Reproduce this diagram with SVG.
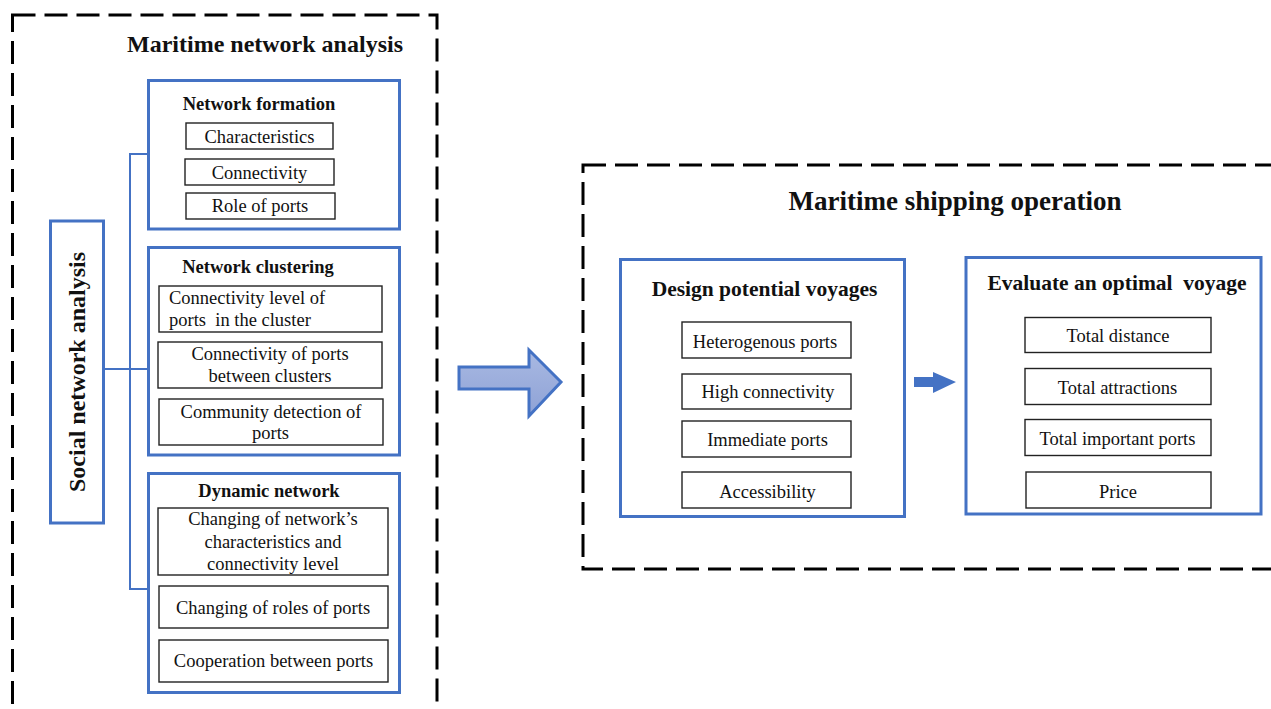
<svg xmlns="http://www.w3.org/2000/svg" width="1271" height="709" viewBox="0 0 1271 709">
<style>
.dash{fill:none;stroke:#000;stroke-width:3;stroke-dasharray:23 9}
.blue{fill:#fff;stroke:#4472C4;stroke-width:3}
.sub{fill:#fff;stroke:#222;stroke-width:1.4}
.conn{fill:none;stroke:#4472C4;stroke-width:2}
text{font-family:"Liberation Serif","Times New Roman",serif;fill:#111;white-space:pre}
.t{font-size:18.5px;text-anchor:middle}
.tl{font-size:18.5px}
.h{font-size:18.5px;font-weight:bold;text-anchor:middle}
.h2{font-size:21.5px;font-weight:bold;text-anchor:middle}
.big{font-size:24px;font-weight:bold;text-anchor:middle}
</style>
<defs>
<linearGradient id="ag" x1="0" y1="0" x2="0" y2="1">
<stop offset="0" stop-color="#a9b9e2"/>
<stop offset="1" stop-color="#8ea2d6"/>
</linearGradient>
</defs>
<rect width="1271" height="709" fill="#fff"/>

<g id="maritime-network-analysis">
<rect class="dash" x="12.5" y="15" width="424.5" height="720"/>
<text class="big" x="265" y="52">Maritime network analysis</text>
</g>

<g id="connectors">
<polyline class="conn" points="148,154 130,154 130,589 148,589"/>
<line class="conn" x1="104" y1="369" x2="148" y2="369"/>
<path d="M459,367 L529,367 L529,350 L561,382 L529,416 L529,389 L459,389 Z" fill="url(#ag)" stroke="#4472C4" stroke-width="3" stroke-linejoin="miter"/>
<path d="M914,377 L933,377 L933,372 L956,382 L933,393 L933,387 L914,387 Z" fill="#4472C4"/>
</g>

<g id="social-network-analysis">
<rect class="blue" x="50.5" y="221" width="53" height="302"/>
<text class="big" transform="translate(85,372) rotate(-90)" x="0" y="0">Social network analysis</text>
</g>

<g id="network-formation">
<rect class="blue" x="148.5" y="80.5" width="251" height="148.5"/>
<text class="h" x="259" y="110">Network formation</text>
<rect class="sub" x="186" y="123" width="147" height="26"/>
<text class="t" x="259.5" y="143">Characteristics</text>
<rect class="sub" x="185" y="159" width="149" height="26"/>
<text class="t" x="259.5" y="179">Connectivity</text>
<rect class="sub" x="186" y="193" width="149" height="26"/>
<text class="t" x="260" y="212">Role of ports</text>
</g>

<g id="network-clustering">
<rect class="blue" x="148.5" y="247.5" width="251" height="207.5"/>
<text class="h" x="258" y="273">Network clustering</text>
<rect class="sub" x="159" y="286" width="223" height="46"/>
<text class="tl" x="169" y="304">Connectivity level of</text>
<text class="tl" x="169" y="326">ports  in the cluster</text>
<rect class="sub" x="158" y="342" width="224" height="46"/>
<text class="t" x="270" y="360">Connectivity of ports</text>
<text class="t" x="270" y="382">between clusters</text>
<rect class="sub" x="159" y="399" width="224" height="46"/>
<text class="t" x="271" y="418">Community detection of</text>
<text class="t" x="270.5" y="439">ports</text>
</g>

<g id="dynamic-network">
<rect class="blue" x="148.5" y="473.5" width="251" height="219"/>
<text class="h" x="269" y="497">Dynamic network</text>
<rect class="sub" x="158" y="508" width="230" height="67"/>
<text class="t" x="273" y="525">Changing of network’s</text>
<text class="t" x="273" y="547.5">characteristics and</text>
<text class="t" x="273" y="570">connectivity level</text>
<rect class="sub" x="159" y="586" width="229" height="42"/>
<text class="t" x="273" y="614">Changing of roles of ports</text>
<rect class="sub" x="159" y="640" width="229" height="42"/>
<text class="t" x="273.5" y="667">Cooperation between ports</text>
</g>

<g id="maritime-shipping-operation">
<rect class="dash" x="583" y="165" width="720" height="404"/>
<text x="955" y="210" style="font-size:27px;font-weight:bold;text-anchor:middle">Maritime shipping operation</text>
</g>

<g id="design-potential-voyages">
<rect class="blue" x="620.5" y="259.5" width="284" height="257"/>
<text class="h2" x="764.5" y="296">Design potential voyages</text>
<rect class="sub" x="682" y="322" width="169" height="36"/>
<text class="t" x="765" y="347.5">Heterogenous ports</text>
<rect class="sub" x="682" y="374" width="169" height="35"/>
<text class="t" x="768" y="398">High connectivity</text>
<rect class="sub" x="682" y="421" width="169" height="36"/>
<text class="t" x="767.5" y="446">Immediate ports</text>
<rect class="sub" x="682" y="472" width="169" height="36"/>
<text class="t" x="767.5" y="497.5">Accessibility</text>
</g>

<g id="evaluate-optimal-voyage">
<rect class="blue" x="966" y="257.5" width="295" height="256.5"/>
<text class="h2" x="1117" y="290">Evaluate an optimal  voyage</text>
<rect class="sub" x="1025" y="317.5" width="186" height="35"/>
<text class="t" x="1118" y="342">Total distance</text>
<rect class="sub" x="1025" y="368.5" width="186" height="36"/>
<text class="t" x="1117.5" y="393.5">Total attractions</text>
<rect class="sub" x="1025" y="419.5" width="186" height="36"/>
<text class="t" x="1117.5" y="444.5">Total important ports</text>
<rect class="sub" x="1026" y="472" width="185" height="36"/>
<text class="t" x="1118" y="497.5">Price</text>
</g>
</svg>
